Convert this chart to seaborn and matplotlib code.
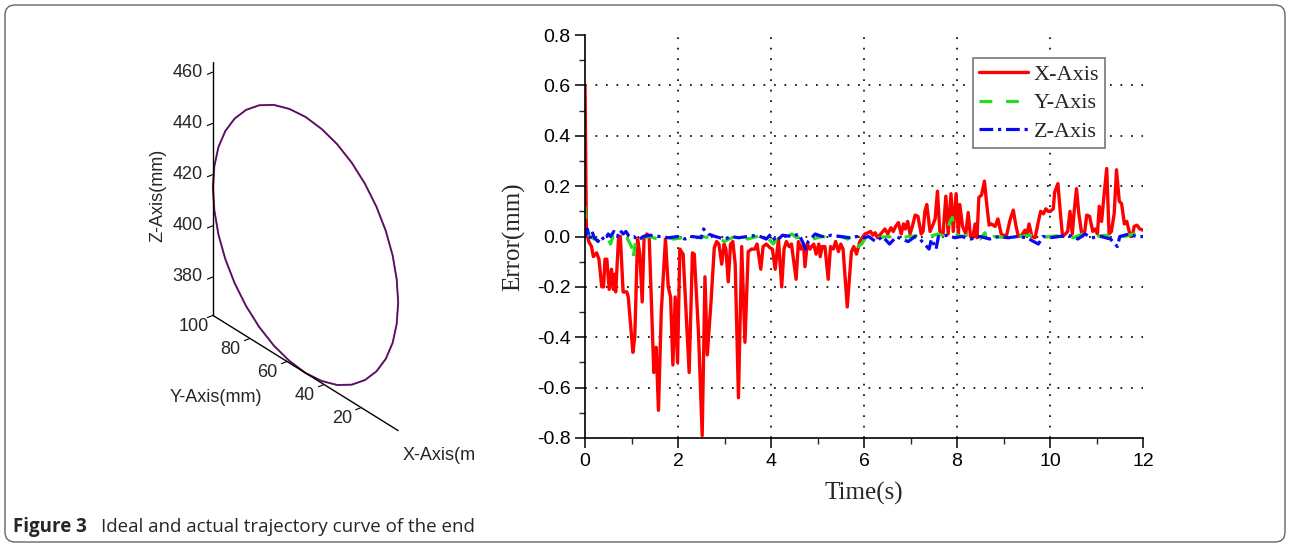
import numpy as np
import pandas as pd
import matplotlib
matplotlib.use("Agg")
import matplotlib.pyplot as plt
import seaborn as sns
from matplotlib.patches import FancyBboxPatch
from mpl_toolkits.mplot3d import proj3d

# ---- right panel: error of the end (mm) against time (s)
x_time = [0.00, 0.03, 0.08, 0.14, 0.18, 0.25, 0.30, 0.36, 0.40, 0.43,
          0.47, 0.52, 0.57, 0.61, 0.63, 0.66, 0.72, 0.76, 0.82, 0.90,
          0.93, 1.03, 1.07, 1.13, 1.18, 1.23, 1.27, 1.33, 1.38, 1.48,
          1.53, 1.58, 1.64, 1.73, 1.79, 1.84, 1.89, 1.94, 1.99, 2.04,
          2.11, 2.24, 2.31, 2.35, 2.44, 2.52, 2.58, 2.63, 2.71, 2.78,
          2.83, 2.88, 2.94, 2.99, 3.03, 3.08, 3.13, 3.18, 3.23, 3.30,
          3.37, 3.44, 3.51, 3.58, 3.65, 3.70, 3.78, 3.83, 3.90, 3.98,
          4.03, 4.09, 4.16, 4.23, 4.28, 4.33, 4.39, 4.44, 4.54, 4.59,
          4.64, 4.70, 4.73, 4.78, 4.84, 4.87, 4.92, 4.97, 5.03, 5.06,
          5.10, 5.16, 5.23, 5.28, 5.34, 5.39, 5.45, 5.50, 5.55, 5.64,
          5.73, 5.78, 5.84, 5.91, 5.98, 6.02, 6.09, 6.14, 6.19, 6.24,
          6.29, 6.36, 6.45, 6.51, 6.58, 6.63, 6.68, 6.74, 6.80, 6.85,
          6.89, 6.94, 6.99, 7.04, 7.10, 7.16, 7.23, 7.27, 7.31, 7.35,
          7.42, 7.49, 7.53, 7.58, 7.63, 7.70, 7.76, 7.81, 7.87, 7.92,
          7.98, 8.03, 8.06, 8.12, 8.19, 8.24, 8.29, 8.34, 8.39, 8.43,
          8.47, 8.53, 8.59, 8.65, 8.69, 8.74, 8.82, 8.88, 8.95, 9.00,
          9.06, 9.14, 9.21, 9.27, 9.32, 9.39, 9.46, 9.50, 9.55, 9.61,
          9.68, 9.75, 9.80, 9.86, 9.91, 9.96, 10.01, 10.07, 10.10, 10.17,
          10.22, 10.27, 10.33, 10.38, 10.43, 10.48, 10.52, 10.57, 10.62, 10.69,
          10.74, 10.79, 10.85, 10.92, 10.97, 11.02, 11.06, 11.11, 11.16, 11.22,
          11.27, 11.32, 11.38, 11.43, 11.49, 11.54, 11.60, 11.65, 11.73, 11.78,
          11.81, 11.87, 11.93, 12.00]
x_err = [0.60, 0.02, -0.02, -0.04, -0.08, -0.065, -0.09, -0.20, -0.20, -0.09,
         -0.09, -0.21, -0.13, -0.21, -0.15, -0.22, -0.01, 0.00, -0.22, -0.22,
         -0.24, -0.46, -0.40, -0.01, -0.07, -0.26, -0.01, 0.01, 0.00, -0.54,
         -0.44, -0.69, -0.30, -0.01, -0.20, -0.24, -0.51, -0.24, -0.50, -0.05,
         -0.07, -0.54, -0.065, -0.07, -0.38, -0.79, -0.16, -0.47, -0.26, -0.045,
         -0.02, -0.03, -0.11, -0.03, -0.05, -0.18, -0.03, -0.02, -0.11, -0.64,
         -0.04, -0.42, -0.06, -0.05, -0.05, -0.03, -0.13, -0.04, -0.03, -0.045,
         -0.05, -0.13, -0.01, -0.20, -0.05, -0.02, -0.04, -0.03, -0.17, -0.02,
         -0.05, -0.03, -0.12, -0.03, -0.05, -0.04, -0.03, -0.07, -0.03, -0.08,
         -0.04, -0.04, -0.17, -0.04, -0.05, -0.02, -0.06, -0.03, -0.05, -0.28,
         -0.06, -0.04, -0.07, -0.02, 0.00, 0.01, 0.015, 0.02, 0.005, 0.015,
         -0.005, 0.01, 0.03, 0.01, 0.035, 0.02, 0.04, 0.055, 0.01, 0.05,
         0.03, 0.06, 0.01, 0.04, 0.085, 0.08, 0.01, 0.02, 0.10, 0.127,
         0.02, 0.05, 0.07, 0.18, 0.02, 0.01, 0.16, 0.01, 0.17, 0.02,
         0.17, 0.01, 0.127, 0.04, 0.01, 0.095, 0.00, -0.005, 0.05, -0.005,
         0.155, 0.165, 0.22, 0.11, 0.045, 0.05, 0.04, 0.07, 0.01, 0.005,
         0.00, 0.065, 0.105, 0.04, 0.00, 0.005, 0.025, 0.005, 0.05, 0.00,
         -0.005, 0.06, 0.10, 0.09, 0.11, 0.10, 0.10, 0.11, 0.175, 0.21,
         0.10, 0.00, 0.01, 0.02, 0.10, 0.01, 0.10, 0.19, 0.09, 0.00,
         0.01, 0.085, 0.08, 0.02, 0.03, 0.01, 0.12, 0.06, 0.16, 0.27,
         0.01, 0.02, 0.09, 0.265, 0.14, 0.13, 0.05, 0.06, 0.00, 0.01,
         0.04, 0.045, 0.03, 0.025]

y_time = [0.00, 0.03, 0.10, 0.20, 0.30, 0.40, 0.50, 0.55, 0.60, 0.70,
          0.80, 0.90, 1.00, 1.03, 1.08, 1.15, 1.25, 1.40, 1.55, 1.70,
          1.90, 2.10, 2.30, 2.50, 2.70, 2.90, 3.00, 3.10, 3.30, 3.50,
          3.70, 3.85, 3.95, 4.05, 4.15, 4.30, 4.45, 4.55, 4.70, 4.90,
          5.10, 5.30, 5.50, 5.65, 5.75, 5.88, 5.95, 6.05, 6.30, 6.50,
          6.70, 7.00, 7.20, 7.40, 7.60, 7.75, 7.85, 7.90, 7.95, 8.10,
          8.30, 8.50, 8.60, 8.65, 8.80, 9.10, 9.30, 9.60, 9.80, 10.00,
          10.30, 10.50, 10.70, 10.90, 11.20, 11.40, 11.60, 11.80, 12.00]
y_err = [0.12, 0.02, 0.00, -0.01, 0.00, -0.005, -0.01, -0.03, 0.00, -0.01,
         0.00, -0.005, -0.04, -0.09, -0.03, 0.00, -0.005, 0.00, -0.01, 0.00,
         -0.01, -0.005, -0.01, 0.00, -0.005, -0.01, -0.02, -0.01, 0.005, -0.01,
         0.00, 0.01, -0.01, -0.03, 0.00, -0.005, 0.01, -0.005, 0.00, -0.01,
         0.00, -0.005, 0.00, -0.01, 0.005, -0.04, -0.03, 0.00, -0.005, 0.00,
         -0.005, 0.00, 0.005, 0.00, 0.01, 0.00, 0.06, 0.075, 0.01, 0.00,
         0.01, -0.01, 0.015, -0.025, 0.00, -0.005, 0.00, 0.005, -0.005, 0.00,
         0.005, -0.005, 0.01, 0.00, 0.005, -0.005, 0.00, 0.01, 0.00]

z_time = [0.00, 0.05, 0.10, 0.15, 0.20, 0.28, 0.35, 0.42, 0.50, 0.55,
          0.62, 0.70, 0.75, 0.82, 0.88, 0.95, 1.05, 1.15, 1.25, 1.40,
          1.60, 1.80, 2.00, 2.15, 2.30, 2.50, 2.55, 2.65, 2.80, 3.00,
          3.15, 3.30, 3.50, 3.70, 3.90, 4.00, 4.10, 4.25, 4.45, 4.60,
          4.75, 4.80, 4.95, 5.10, 5.30, 5.50, 5.70, 5.85, 6.00, 6.10,
          6.25, 6.40, 6.55, 6.70, 6.80, 6.95, 7.10, 7.20, 7.40, 7.45,
          7.55, 7.60, 7.80, 7.95, 8.10, 8.30, 8.50, 8.70, 8.90, 9.10,
          9.30, 9.50, 9.75, 9.85, 10.00, 10.20, 10.40, 10.60, 10.75, 10.90,
          11.10, 11.30, 11.45, 11.50, 11.70, 11.85, 12.00]
z_err = [0.00, 0.03, -0.01, 0.02, -0.005, -0.02, 0.00, -0.015, 0.01, 0.00,
         0.02, 0.00, 0.025, 0.01, 0.02, 0.00, 0.00, -0.015, 0.00, 0.005,
         0.00, -0.005, 0.00, -0.01, 0.00, -0.005, 0.03, 0.01, 0.00, -0.01,
         0.00, -0.005, 0.00, 0.005, -0.01, 0.01, -0.02, 0.005, 0.00, 0.01,
         -0.05, -0.02, 0.01, 0.00, 0.005, 0.00, -0.005, 0.00, -0.005, 0.00,
         -0.02, 0.00, -0.03, 0.00, -0.01, -0.02, 0.00, -0.01, -0.05, -0.01,
         -0.05, 0.00, 0.005, -0.005, 0.00, -0.01, 0.00, -0.01, 0.00, -0.005,
         0.00, -0.005, -0.03, 0.00, -0.005, 0.00, 0.005, -0.01, 0.01, -0.005,
         0.00, -0.01, -0.04, 0.00, 0.01, 0.00, 0.00]

time_ticks = [0, 2, 4, 6, 8, 10, 12]
err_ticks = [-0.8, -0.6, -0.4, -0.2, 0.0, 0.2, 0.4, 0.6, 0.8]
err_tick_labels = ['-0.8', '-0.6', '-0.4', '-0.2', '0.0', '0.2', '0.4', '0.6', '0.8']

# ---- left panel: trajectory of the end, circle in the plane X = const (mm)
traj_x = 0.0
traj_y = [100.0, 99.2, 97.0, 93.3, 88.3, 82.1, 75.0, 67.1, 58.7, 50.0,
          41.3, 32.9, 25.0, 17.9, 11.7, 6.7, 3.0, 0.8, 0.0, 0.8,
          3.0, 6.7, 11.7, 17.9, 25.0, 32.9, 41.3, 50.0, 58.7, 67.1,
          75.0, 82.1, 88.3, 93.3, 97.0, 99.2, 100.0]
traj_z = [415.0, 423.7, 432.1, 440.0, 447.1, 453.3, 458.3, 462.0, 464.2, 465.0,
          464.2, 462.0, 458.3, 453.3, 447.1, 440.0, 432.1, 423.7, 415.0, 406.3,
          397.9, 390.0, 382.9, 376.7, 371.7, 368.0, 365.8, 365.0, 365.8, 368.0,
          371.7, 376.7, 382.9, 390.0, 397.9, 406.3, 415.0]
y_ticks3d = [20, 40, 60, 80, 100]
z_ticks3d = [380, 400, 420, 440, 460]

W, H = 1290, 547
sns.set_style("ticks")
plt.rcParams['font.family'] = ['Liberation Sans', 'DejaVu Sans']

fig = plt.figure(figsize=(W / 100, H / 100), dpi=100)

# 3D trajectory
ax3 = fig.add_axes([95 / W, 91.5 / H, 410 / W, 410 / H], projection='3d', proj_type='ortho')
ax3.set_xlim(-10, 10)
ax3.set_ylim(0, 100)
ax3.set_zlim(365, 465)
ax3.set_box_aspect((0.2, 1, 1))
ax3.view_init(elev=30, azim=231.2)
ax3.set_axis_off()
ax3.patch.set_alpha(0)

xs = [traj_x] * len(traj_y)
ax3.plot(xs, traj_y, traj_z, color='#e01818', lw=1.4)
ax3.plot(xs, traj_y, traj_z, color='#1c1c9c', lw=0.9)
ax3.plot([traj_x, traj_x], [100, 100], [365, 464], color='k', lw=1)
ax3.plot([traj_x, traj_x], [100, 0], [365, 365], color='k', lw=1)

# tick labels placed at the projected 3D positions
M = ax3.get_proj()


def to_view(x, y, z):
    px, py, _ = proj3d.proj_transform(x, y, z, M)
    return px, py


for z in z_ticks3d:
    ax3.plot([traj_x, traj_x - 2.4], [100, 100], [z, z], color='k', lw=0.8)
    px, py = to_view(traj_x, 105.4, z - 2.4)
    ax3.text2D(px, py, str(z), transform=ax3.transData, ha='right', va='center', fontsize=13)
for y in y_ticks3d:
    ax3.plot([traj_x, traj_x - 2.4], [y, y], [365, 365], color='k', lw=0.8)
    px, py = to_view(traj_x - 8.4, y, 363.8)
    ax3.text2D(px, py, str(y), transform=ax3.transData, ha='center', va='center', fontsize=13)

fig.text(158 / W, 1 - 195 / H, 'Z-Axis(mm)', rotation=90, ha='center', va='center', fontsize=13)
fig.text(216 / W, 1 - 398 / H, 'Y-Axis(mm)', ha='center', va='center', fontsize=13)
fig.text(403 / W, 1 - 455 / H, 'X-Axis(m', ha='left', va='center', fontsize=13)

# error curves
ax = fig.add_axes([585 / W, 109 / H, 558 / W, 403 / H])
serif = {'family': ['Liberation Serif', 'DejaVu Serif'], 'size': 18}

sns.lineplot(x=x_time, y=x_err, ax=ax, color='#ff0000', linewidth=2.4,
             estimator=None, sort=False, label='X-Axis')
sns.lineplot(x=y_time, y=y_err, ax=ax, color='#22dd22', linewidth=2.3,
             estimator=None, sort=False, label='Y-Axis')
sns.lineplot(x=z_time, y=z_err, ax=ax, color='#0a0aee', linewidth=2.3,
             estimator=None, sort=False, label='Z-Axis')
ax.lines[1].set_linestyle((0, (4, 4.3)))
ax.lines[2].set_linestyle((0, (4.3, 1.5, 1, 1.5)))

ax.set_xlim(0, 12)
ax.set_ylim(-0.8, 0.8)
ax.set_xticks(time_ticks)
ax.set_xticks([1, 3, 5, 7, 9, 11], minor=True)
ax.set_yticks(err_ticks)
ax.set_yticklabels(err_tick_labels)
ax.set_yticks(np.arange(-0.7, 0.8, 0.2), minor=True)
ax.tick_params(which='major', direction='out', length=7, width=1.1, labelsize=14, colors='k')
ax.tick_params(which='minor', direction='out', length=4, width=1.0)
for side in ['top', 'right']:
    ax.spines[side].set_visible(False)
for side in ['left', 'bottom']:
    ax.spines[side].set_linewidth(1.2)
    ax.spines[side].set_color('k')

ax.grid(True, which='major', color='#222222', linestyle=(0, (0.9, 4.5)), linewidth=1.4)
ax.set_axisbelow(True)
ygl = ax.get_ygridlines()
ygl[0].set_visible(False)
ygl[-1].set_visible(False)
xgl = ax.get_xgridlines()
xgl[0].set_visible(False)
xgl[-1].set_visible(False)

ax.set_xlabel('Time(s)', fontdict=serif, labelpad=9)
ax.set_ylabel('Error(mm)', fontdict=serif, labelpad=8)

leg = ax.legend(loc='upper left', bbox_to_anchor=(0.695, 0.943), borderaxespad=0,
                frameon=True, fancybox=False, framealpha=1, edgecolor='#777777',
                prop={'family': ['Liberation Serif', 'DejaVu Serif'], 'size': 16},
                handlelength=2.2, handletextpad=0.25, borderpad=0.28, labelspacing=0.36)
leg.get_frame().set_linewidth(1.2)

# caption and frame
fig.text(13 / W, 1 - 527 / H, 'Figure 3', fontsize=13.5, fontweight='bold',
         family=['Open Sans', 'DejaVu Sans'], ha='left', va='center')
fig.text(101 / W, 1 - 527 / H, 'Ideal and actual trajectory curve of the end', fontsize=13.5,
         family=['Open Sans', 'DejaVu Sans'], ha='left', va='center')
frame = FancyBboxPatch((0.05, 0.05), 12.8, 5.37, boxstyle='round,pad=0,rounding_size=0.1',
                       transform=fig.dpi_scale_trans, facecolor='none', edgecolor='#666666', lw=1)
fig.add_artist(frame)

fig.savefig('out.png', dpi=100)
